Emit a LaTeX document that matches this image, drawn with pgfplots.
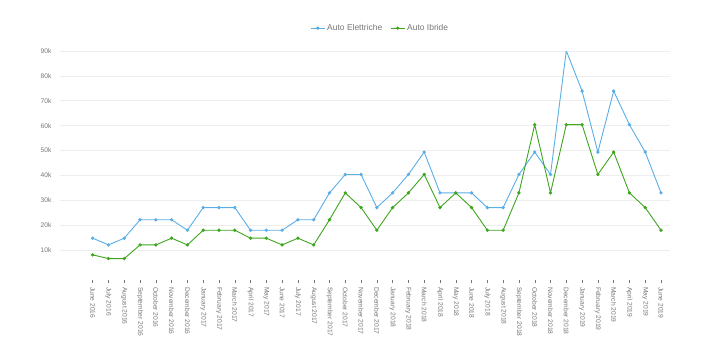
\documentclass[border=0pt]{standalone}
\usepackage{pgfplots}
\pgfplotsset{compat=1.18}
\usepackage{fontspec}
\setmainfont{Liberation Sans}
\definecolor{cblue}{HTML}{5AAEE6}
\definecolor{cgreen}{HTML}{3EA61E}
\definecolor{tgray}{HTML}{777777}
\definecolor{ggray}{HTML}{EEEEEE}
\begin{document}
\begin{tikzpicture}[x=1bp,y=1bp]
\useasboundingbox (0,0) rectangle (720,353);
\begin{axis}[
  at={(60bp,73bp)}, anchor=south west,
  scale only axis, width=610bp, height=229bp,
  xmin=-2.07, xmax=36.57, ymin=-2000, ymax=90000,
  scaled y ticks=false,
  axis line style={draw=none},
  xtick={0,...,36},
  xticklabels={June 2016,July 2016,August 2016,September 2016,October 2016,November 2016,December 2016,January 2017,February 2017,March 2017,April 2017,May 2017,June 2017,July 2017,August 2017,September 2017,October 2017,November 2017,December 2017,January 2018,February 2018,March 2018,April 2018,May 2018,June 2018,July 2018,August 2018,September 2018,October 2018,November 2018,December 2018,January 2019,February 2019,March 2019,April 2019,May 2019,June 2019},
  x tick label style={rotate=-90, anchor=west, font=\fontsize{6.7}{7}\selectfont, text=tgray, inner sep=1bp},
  xtick pos=bottom, tick align=outside,
  x tick style={draw=tgray, line width=0.4bp},
  major tick length=3bp,
  xticklabel shift=3bp,
  ytick={10000,20000,...,90000},
  yticklabels={10k,20k,30k,40k,50k,60k,70k,80k,90k},
  y tick label style={font=\fontsize{6.7}{7}\selectfont, text=tgray},
  y tick style={draw=none},
  yticklabel shift=2bp,
  ymajorgrids, major grid style={draw=ggray, line width=0.6bp},
  legend style={at={(0.525,1.1)}, anchor=center, draw=none, fill=none,
    font=\fontsize{8.5}{10}\selectfont, text=tgray, legend columns=2,
    /tikz/every even column/.append style={column sep=6bp}},
  legend image code/.code={\draw[mark repeat=2,mark phase=2,#1] plot coordinates {(0bp,0bp) (7bp,0bp) (14bp,0bp)};},
]
\addplot[cblue, line width=0.9bp, mark=*, mark size=1.2bp] coordinates {
(0,14800)(1,12100)(2,14800)(3,22200)(4,22200)(5,22200)(6,18000)(7,27100)(8,27100)(9,27100)
(10,18000)(11,18000)(12,18000)(13,22200)(14,22200)(15,33000)(16,40400)(17,40400)(18,27100)(19,33000)
(20,40400)(21,49400)(22,33000)(23,33000)(24,33000)(25,27100)(26,27100)(27,40400)(28,49400)(29,40400)
(30,90100)(31,73900)(32,49400)(33,73900)(34,60400)(35,49400)(36,33000)};
\addlegendentry{Auto Elettriche}
\addplot[cgreen, line width=0.9bp, mark=*, mark size=1.2bp] coordinates {
(0,8100)(1,6600)(2,6600)(3,12100)(4,12100)(5,14800)(6,12100)(7,18000)(8,18000)(9,18000)
(10,14800)(11,14800)(12,12100)(13,14800)(14,12100)(15,22200)(16,33000)(17,27100)(18,18000)(19,27100)
(20,33000)(21,40400)(22,27100)(23,33000)(24,27100)(25,18000)(26,18000)(27,33000)(28,60400)(29,33000)
(30,60400)(31,60400)(32,40400)(33,49400)(34,33000)(35,27100)(36,18000)};
\addlegendentry{Auto Ibride}
\end{axis}
\end{tikzpicture}
\end{document}
